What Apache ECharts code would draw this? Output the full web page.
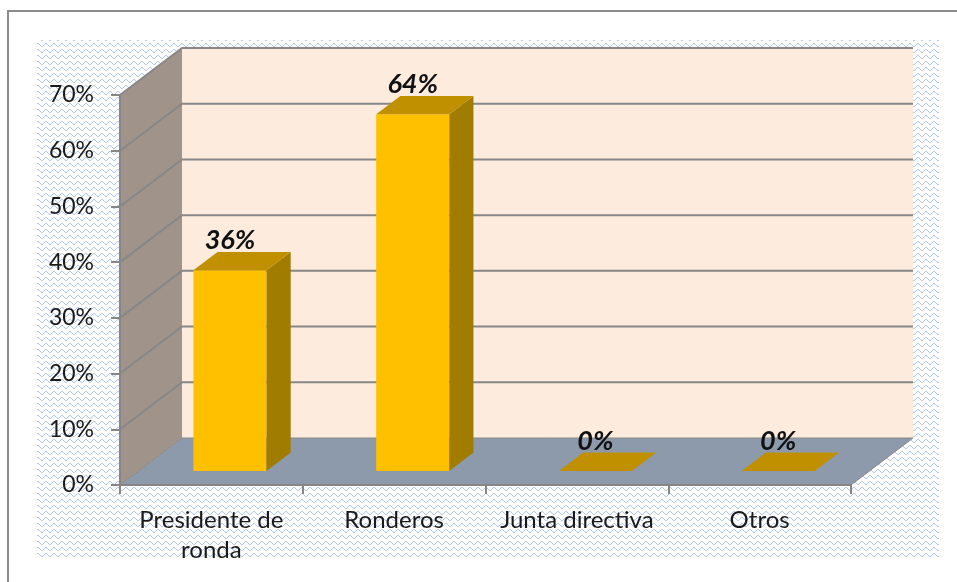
<!DOCTYPE html>
<html>
<head>
<meta charset="utf-8">
<script src="https://cdn.jsdelivr.net/npm/echarts@6/dist/echarts.min.js"></script>
<style>
    html, body { margin: 0; padding: 0; background: #fff; }
    #main { width: 957px; height: 582px; }
</style>
</head>
<body>
<div id="main"></div>
<script>
    // datos del gráfico
    const categories = ['Presidente de\nronda', 'Ronderos', 'Junta directiva', 'Otros'];
    const shares = [0.36, 0.64, 0, 0];
    const yTicks = [0, 0.1, 0.2, 0.3, 0.4, 0.5, 0.6, 0.7];

    // vector de profundidad del efecto 3D (px)
    const DX = 62, DY = -47;
    const FONT = 'Lato, "Open Sans", sans-serif';

    // patrón ondulado del fondo del área de trazado
    function wavePattern() {
        const c = document.createElement('canvas');
        c.width = 8; c.height = 6;
        const ctx = c.getContext('2d');
        ctx.fillStyle = '#ffffff';
        ctx.fillRect(0, 0, 8, 6);
        ctx.strokeStyle = 'rgba(135,168,222,0.8)';
        ctx.lineWidth = 1;
        ctx.beginPath();
        for (let x = 0; x <= 8; x += 0.5) {
            const y = 3 + 1.5 * Math.sin(x / 8 * Math.PI * 2);
            if (x === 0) ctx.moveTo(x, y); else ctx.lineTo(x, y);
        }
        ctx.stroke();
        return c;
    }

    const pct = v => Math.round(v * 100) + '%';

    function renderWalls(params, api) {
        const cs = params.coordSys;
        const x0 = cs.x, x1 = cs.x + cs.width;
        const yb = api.coord([0, 0])[1];
        const yt = api.coord([0, yTicks[yTicks.length - 1]])[1];
        const children = [
            {
                type: 'polygon',
                shape: { points: [[x0, yb], [x0, yt], [x0 + DX, yt + DY], [x0 + DX, yb + DY]] },
                style: { fill: '#A0948A' }
            },
            {
                type: 'rect',
                shape: { x: x0 + DX, y: yt + DY, width: x1 - x0, height: yb - yt },
                style: { fill: '#FDEBDD' }
            }
        ];
        yTicks.forEach(function (v) {
            if (v === 0) return;
            const y = api.coord([0, v])[1];
            children.push({
                type: 'polyline',
                shape: { points: [[x0, y], [x0 + DX, y + DY], [x1 + DX, y + DY]] },
                style: { stroke: '#878787', lineWidth: 2, fill: null }
            });
        });
        children.push({
            type: 'polygon',
            shape: { points: [[x0, yb], [x1, yb], [x1 + DX, yb + DY], [x0 + DX, yb + DY]] },
            style: { fill: '#8C9AAB', stroke: '#8A8A8A', lineWidth: 1 }
        });
        return { type: 'group', children: children };
    }

    function renderBar(params, api) {
        const i = api.value(0), v = api.value(1);
        const top = api.coord([i, v]);
        const base = api.coord([i, 0]);
        const w = api.size([1, 0])[0] * 0.4;
        const f = 0.3, d = 0.39;
        const xl = top[0] - w / 2 + f * DX, xr = xl + w;
        const yt = top[1] + f * DY, yb = base[1] + f * DY;
        const ddx = d * DX, ddy = d * DY;
        const children = [];
        if (v > 0) {
            children.push({
                type: 'rect',
                shape: { x: xl, y: yt, width: w, height: yb - yt },
                style: { fill: '#FFC000' }
            });
            children.push({
                type: 'polygon',
                shape: { points: [[xr, yt], [xr + ddx, yt + ddy], [xr + ddx, yb + ddy], [xr, yb]] },
                style: { fill: '#A07C00' }
            });
        }
        children.push({
            type: 'polygon',
            shape: { points: [[xl, yt], [xr, yt], [xr + ddx, yt + ddy], [xl + ddx, yt + ddy]] },
            style: { fill: '#C09000' }
        });
        children.push({
            type: 'text',
            style: {
                text: pct(v), x: xl + w / 2, y: yt - 30,
                align: 'center', verticalAlign: 'middle',
                font: 'italic bold 27px ' + FONT, fill: '#111'
            }
        });
        return { type: 'group', children: children };
    }

    const chart = echarts.init(document.getElementById('main'));
    chart.setOption({
        animation: false,
        backgroundColor: '#ffffff',
        graphic: [
            {
                type: 'rect', z: -10,
                shape: { x: 8, y: 11, width: 1200, height: 1000 },
                style: { fill: null, stroke: '#8C8C8C', lineWidth: 2 }
            },
            {
                type: 'rect', z: -9,
                shape: { x: 37, y: 40, width: 902, height: 519 },
                style: { fill: { image: wavePattern(), repeat: 'repeat' } }
            }
        ],
        grid: { left: 120, right: 106, top: 95, bottom: 97 },
        xAxis: {
            type: 'category',
            data: categories,
            z: 5,
            axisLine: { lineStyle: { color: '#868686', width: 2 } },
            axisTick: { show: true, length: 9, alignWithLabel: false, lineStyle: { color: '#868686', width: 2 } },
            axisLabel: {
                interval: 0, margin: 20, lineHeight: 30,
                fontFamily: FONT, fontSize: 24, color: '#1a1a1a'
            },
            splitLine: { show: false }
        },
        yAxis: {
            type: 'value',
            min: 0, max: 0.7, interval: 0.1,
            z: 5,
            axisLine: { show: true, lineStyle: { color: '#868686', width: 2 } },
            axisTick: { show: true, length: 9, lineStyle: { color: '#868686', width: 2 } },
            axisLabel: {
                margin: 26, formatter: pct,
                fontFamily: FONT, fontSize: 23, color: '#1a1a1a'
            },
            splitLine: { show: false }
        },
        series: [
            {
                type: 'custom',
                z: 1,
                silent: true,
                renderItem: renderWalls,
                data: [[0, 0]]
            },
            {
                type: 'custom',
                z: 2,
                renderItem: renderBar,
                encode: { x: 0, y: 1 },
                data: shares.map((v, i) => [i, v])
            }
        ]
    });
</script>
</body>
</html>
